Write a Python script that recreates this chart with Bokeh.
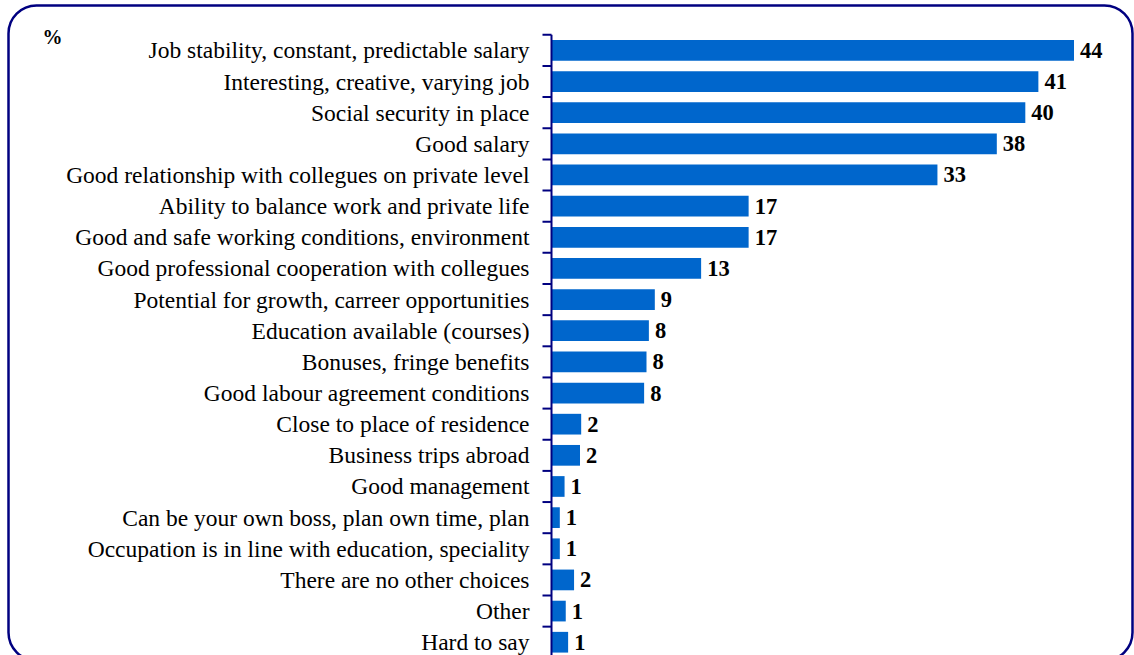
import math
from bokeh.plotting import figure
from bokeh.models import Range1d, BoxAnnotation, Label, ColumnDataSource
from bokeh.core.properties import value
from bokeh.embed import file_html
from bokeh.resources import INLINE

categories = [
    "Job stability, constant, predictable salary",
    "Interesting, creative, varying job",
    "Social security in place",
    "Good salary",
    "Good relationship with collegues on private level",
    "Ability to balance work and private life",
    "Good and safe working conditions, environment",
    "Good professional cooperation with collegues",
    "Potential for growth, carreer opportunities",
    "Education available (courses)",
    "Bonuses, fringe benefits",
    "Good labour agreement conditions",
    "Close to place of residence",
    "Business trips abroad",
    "Good management",
    "Can be your own boss, plan own time, plan",
    "Occupation is in line with education, speciality",
    "There are no other choices",
    "Other",
    "Hard to say",
]
bar_values = [44.0, 41.0, 39.9, 37.5, 32.5, 16.6, 16.6, 12.6, 8.7, 8.2,
              8.0, 7.8, 2.5, 2.4, 1.1, 0.7, 0.7, 1.9, 1.2, 1.4]
value_labels = ["44", "41", "40", "38", "33", "17", "17", "13", "9", "8",
                "8", "8", "2", "2", "1", "1", "1", "2", "1", "1"]
unit_label = "%"

n = len(categories)
positions = list(range(n))
boundaries = [i - 0.5 for i in range(n + 1)]

W, H = 1134, 655
NAVY = "#000080"
BAR = "#0066CC"
FONT = "Liberation Serif"

# layout: value axis origin at 551px, 11.875 px per percent; rows 31.15px apart, first boundary at 34.3px
XPX, X0 = 11.875, 551.0
YPX, Y0 = 31.15, 34.3
x_range = Range1d(-X0 / XPX, (W - X0) / XPX)
y_range = Range1d(-0.5 + (H - Y0) / YPX, -0.5 - Y0 / YPX)

p = figure(width=W, height=H, output_backend="svg", toolbar_location=None,
           x_range=x_range, y_range=y_range,
           x_axis_type=None, y_axis_type=None,
           min_border=0, min_border_left=0, min_border_right=0,
           min_border_top=0, min_border_bottom=0)
p.outline_line_color = None
p.background_fill_color = "white"
p.border_fill_color = "white"
p.grid.visible = False

src = ColumnDataSource(dict(y=positions, v=bar_values, lab=value_labels,
                            cat=categories, zero=[0] * n))

# bars
p.hbar(y="y", left=0, right="v", height=0.665, source=src,
       fill_color=BAR, line_color=None)

# category axis: line, boundary ticks, labels
p.segment(x0=[0], y0=[boundaries[0]], x1=[0], y1=[boundaries[-1] + 1],
          line_color=NAVY, line_width=2)
p.ray(x=[0] * len(boundaries), y=boundaries, length=9, length_units="screen",
      angle=math.pi, line_color=NAVY, line_width=2)
p.text(x="zero", y="y", text="cat", source=src, x_offset=-22,
       text_baseline="middle", text_align="right",
       text_font=value(FONT), text_font_size="23.5px", text_color="black")

# value labels
p.text(x="v", y="y", text="lab", source=src, x_offset=6,
       text_baseline="middle", text_align="left",
       text_font=value(FONT), text_font_style="bold", text_font_size="22.5px",
       text_color="black")

# rounded frame around the chart
border = BoxAnnotation(left=8, right=1132, top=5, bottom=660,
                       left_units="canvas", right_units="canvas",
                       top_units="canvas", bottom_units="canvas",
                       fill_color=None, fill_alpha=0,
                       line_color=NAVY, line_alpha=1.0, line_width=2.5,
                       border_radius=28)
p.add_layout(border)

pct = Label(x=42, y=25, x_units="canvas", y_units="canvas", text=unit_label,
            text_font=FONT, text_font_style="bold", text_font_size="20px",
            text_baseline="top", text_color="black")
p.add_layout(pct)

open("out.html", "w").write(file_html(p, INLINE))
